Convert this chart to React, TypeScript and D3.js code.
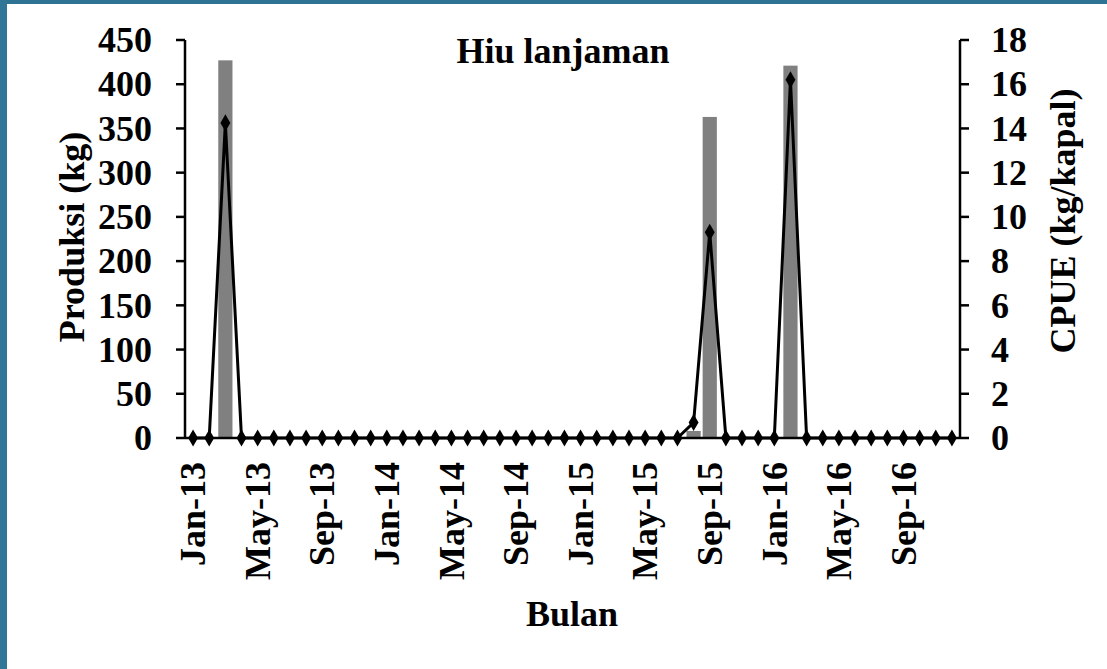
import React from "react";
import * as d3 from "d3";

const months: string[] = d3
  .timeMonths(new Date(2013, 0, 1), new Date(2017, 0, 1))
  .map((d) => d3.timeFormat("%b-%y")(d));

const produksi: number[] = [
  0, 0, 427, 0, 0, 0, 0, 0, 0, 0, 0, 0,
  0, 0, 0, 0, 0, 0, 0, 0, 0, 0, 0, 0,
  0, 0, 0, 0, 0, 0, 0, 8, 363, 0, 0, 0,
  0, 421, 0, 0, 0, 0, 0, 0, 0, 0, 0, 0,
];

const cpue: number[] = [
  0, 0, 14.25, 0, 0, 0, 0, 0, 0, 0, 0, 0,
  0, 0, 0, 0, 0, 0, 0, 0, 0, 0, 0, 0,
  0, 0, 0, 0, 0, 0, 0, 0.7, 9.3, 0, 0, 0,
  0, 16.2, 0, 0, 0, 0, 0, 0, 0, 0, 0, 0,
];

const leftTicks: number[] = [0, 50, 100, 150, 200, 250, 300, 350, 400, 450];
const rightTicks: number[] = [0, 2, 4, 6, 8, 10, 12, 14, 16, 18];

const W = 1107;
const H = 669;
const left = 185;
const right = 960;
const top = 40;
const bottom = 438;
const FONT = "'Liberation Serif', 'Times New Roman', serif";
const FS = 36;

export default function App() {
  const x = d3.scaleBand<string>().domain(months).range([left, right]).paddingInner(0.12).paddingOuter(0.06);
  const xc = (m: string) => (x(m) as number) + x.bandwidth() / 2;
  const yL = d3.scaleLinear().domain([0, 450]).range([bottom, top]);
  const yR = d3.scaleLinear().domain([0, 18]).range([bottom, top]);

  const line = d3
    .line<number>()
    .x((_, i) => xc(months[i]))
    .y((d) => yR(d));
  const diamond = d3.symbol().type(d3.symbolDiamond).size(85)() as string;

  return (
    <svg width={W} height={H} style={{ position: "absolute", left: 0, top: 0, background: "#fff" }}>
      <rect x={0} y={0} width={W} height={H} fill="#fff" />
      <rect x={0} y={0} width={W} height={4} fill="#2e7393" />
      <rect x={0} y={0} width={7} height={H} fill="#2f7697" />

      {/* bars */}
      {produksi.map((v, i) =>
        v > 0 ? (
          <rect
            key={"b" + i}
            x={x(months[i])}
            y={yL(v)}
            width={x.bandwidth()}
            height={bottom - yL(v)}
            fill="#808080"
          />
        ) : null
      )}

      {/* axes */}
      <line x1={left} x2={left} y1={top} y2={bottom} stroke="#000" strokeWidth={2.5} />
      <line x1={right} x2={right} y1={top} y2={bottom} stroke="#000" strokeWidth={2.5} />
      <line x1={left} x2={right} y1={bottom} y2={bottom} stroke="#000" strokeWidth={2.5} />

      {leftTicks.map((t) => (
        <g key={"l" + t}>
          <line x1={left - 9} x2={left} y1={yL(t)} y2={yL(t)} stroke="#000" strokeWidth={2.5} />
          <text
            x={152}
            y={yL(t)}
            dy="0.34em"
            textAnchor="end"
            fontFamily={FONT}
            fontWeight="bold"
            fontSize={FS}
          >
            {t}
          </text>
        </g>
      ))}
      {rightTicks.map((t) => (
        <g key={"r" + t}>
          <line x1={right} x2={right + 9} y1={yR(t)} y2={yR(t)} stroke="#000" strokeWidth={2.5} />
          <text
            x={991}
            y={yR(t)}
            dy="0.34em"
            textAnchor="start"
            fontFamily={FONT}
            fontWeight="bold"
            fontSize={FS}
          >
            {t}
          </text>
        </g>
      ))}

      {/* line */}
      <path d={line(cpue) as string} fill="none" stroke="#000" strokeWidth={3} strokeLinejoin="miter" />
      {cpue.map((v, i) => (
        <path key={"m" + i} d={diamond} transform={`translate(${xc(months[i])},${yR(v)})`} fill="#000" />
      ))}

      {/* x tick labels */}
      {months.map((m, i) =>
        i % 4 === 0 ? (
          <text
            key={"x" + i}
            transform={`translate(${xc(m)},462) rotate(-90)`}
            dy="0.34em"
            textAnchor="end"
            fontFamily={FONT}
            fontWeight="bold"
            fontSize={FS}
          >
            {m}
          </text>
        ) : null
      )}

      {/* titles */}
      <text x={563} y={63} textAnchor="middle" fontFamily={FONT} fontWeight="bold" fontSize={FS}>
        Hiu lanjaman
      </text>
      <text x={572} y={626} textAnchor="middle" fontFamily={FONT} fontWeight="bold" fontSize={FS}>
        Bulan
      </text>
      <text
        transform={`translate(72,237) rotate(-90)`}
        dy="0.34em"
        textAnchor="middle"
        fontFamily={FONT}
        fontWeight="bold"
        fontSize={FS}
      >
        Produksi (kg)
      </text>
      <text
        transform={`translate(1063,221) rotate(-90)`}
        dy="0.34em"
        textAnchor="middle"
        fontFamily={FONT}
        fontWeight="bold"
        fontSize={FS}
      >
        CPUE (kg/kapal)
      </text>
    </svg>
  );
}
